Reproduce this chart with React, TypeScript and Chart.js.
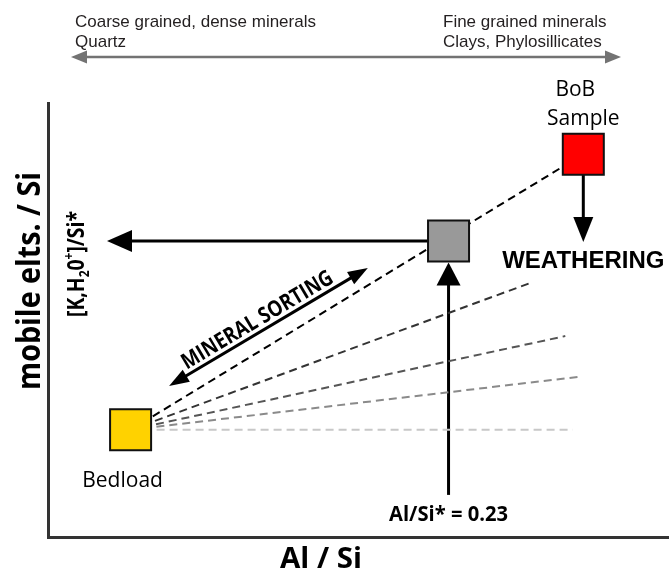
import React, { useEffect, useRef } from "react";
import { Chart, registerables } from "chart.js";

Chart.register(...registerables);

// ---- Schematic data (arbitrary 0–100 units on both axes) ----
const bedloadPoint = [{ x: 13.3, y: 24.7 }];
const sortedPoint = [{ x: 64.5, y: 68.2 }];
const bobPoint = [{ x: 86.2, y: 88.2 }];

// weathering / sorting trend lines radiating from the bedload point
const trendEndX = [86.2, 77.6, 83.3, 85.4, 84.5];
const trendEndY = [88.2, 58.5, 46.3, 36.9, 24.7];
const trendColors = ["#000000", "#333333", "#555555", "#8a8a8a", "#c8c8c8"];

// arrows
const mobileArrowTipX = 9.5; // horizontal arrow to the y axis
const alSiArrowBaseY = 9.7; // vertical arrow from Al/Si* = 0.23
const weatheringTipY = 68.0; // red sample -> weathering
const sortingStart = { x: 19.5, y: 34.8 };
const sortingEnd = { x: 51.5, y: 62.0 };

const SQUARE_RADIUS = 29; // Chart.js rect radius -> ~41px side
const HALF_SIDE = SQUARE_RADIUS * Math.SQRT1_2;

const SANS = "'Open Sans', 'Noto Sans', sans-serif";
const ARIAL = "'Liberation Sans', Arial, sans-serif";

function head(ctx: CanvasRenderingContext2D, fx: number, fy: number, tx: number, ty: number, len: number, half: number) {
  const a = Math.atan2(ty - fy, tx - fx);
  const bx = tx - len * Math.cos(a);
  const by = ty - len * Math.sin(a);
  ctx.beginPath();
  ctx.moveTo(tx, ty);
  ctx.lineTo(bx + half * Math.sin(a), by - half * Math.cos(a));
  ctx.lineTo(bx - half * Math.sin(a), by + half * Math.cos(a));
  ctx.closePath();
  ctx.fill();
}

function arrow(
  ctx: CanvasRenderingContext2D,
  x1: number, y1: number, x2: number, y2: number,
  w: number, len: number, half: number, color: string, both = false
) {
  const a = Math.atan2(y2 - y1, x2 - x1);
  const c = Math.cos(a), s = Math.sin(a);
  ctx.save();
  ctx.strokeStyle = color;
  ctx.fillStyle = color;
  ctx.lineWidth = w;
  ctx.setLineDash([]);
  ctx.beginPath();
  const sx = both ? x1 + (len - 2) * c : x1;
  const sy = both ? y1 + (len - 2) * s : y1;
  ctx.moveTo(sx, sy);
  ctx.lineTo(x2 - (len - 2) * c, y2 - (len - 2) * s);
  ctx.stroke();
  head(ctx, x1, y1, x2, y2, len, half);
  if (both) head(ctx, x2, y2, x1, y1, len, half);
  ctx.restore();
}

function text(
  ctx: CanvasRenderingContext2D, str: string, x: number, y: number, font: string,
  opts: { color?: string; align?: CanvasTextAlign; width?: number; angle?: number } = {}
) {
  ctx.save();
  ctx.font = font;
  ctx.fillStyle = opts.color || "#000";
  ctx.textAlign = opts.align || "center";
  ctx.textBaseline = "alphabetic";
  const w = ctx.measureText(str).width;
  const sx = opts.width ? opts.width / w : 1;
  ctx.translate(x, y);
  if (opts.angle) ctx.rotate(opts.angle);
  ctx.scale(sx, 1);
  ctx.fillText(str, 0, 0);
  ctx.restore();
}

type Part = { t: string; k?: number; dy?: number };
function richText(
  ctx: CanvasRenderingContext2D, parts: Part[], x: number, y: number,
  size: number, family: string, weight: string, width: number, angle: number
) {
  ctx.save();
  const widths = parts.map((p) => {
    ctx.font = `${weight} ${size * (p.k || 1)}px ${family}`;
    return ctx.measureText(p.t).width;
  });
  const total = widths.reduce((a, b) => a + b, 0);
  ctx.translate(x, y);
  ctx.rotate(angle);
  ctx.scale(width / total, 1);
  ctx.fillStyle = "#000";
  ctx.textBaseline = "alphabetic";
  ctx.textAlign = "left";
  let cx = -total / 2;
  parts.forEach((p, i) => {
    ctx.font = `${weight} ${size * (p.k || 1)}px ${family}`;
    ctx.fillText(p.t, cx, p.dy || 0);
    cx += widths[i];
  });
  ctx.restore();
}

const annotations = {
  id: "annotations",
  beforeDatasetsDraw(chart: any) {
    const ctx: CanvasRenderingContext2D = chart.ctx;
    const xs = chart.scales.x, ys = chart.scales.y;
    const gx = xs.getPixelForValue(sortedPoint[0].x);
    const gy = ys.getPixelForValue(sortedPoint[0].y);
    const rx = xs.getPixelForValue(bobPoint[0].x);
    const ry = ys.getPixelForValue(bobPoint[0].y);
    // mobile elements arrow
    arrow(ctx, gx, gy, xs.getPixelForValue(mobileArrowTipX), gy, 3, 25, 11, "#000");
    // Al/Si* arrow
    arrow(ctx, gx, ys.getPixelForValue(alSiArrowBaseY), gx, gy + HALF_SIDE + 1, 3, 23, 12, "#000");
    // weathering arrow
    arrow(ctx, rx, ry, rx, ys.getPixelForValue(weatheringTipY), 3, 25, 10, "#000");
    // mineral sorting double arrow
    arrow(
      ctx,
      xs.getPixelForValue(sortingStart.x), ys.getPixelForValue(sortingStart.y),
      xs.getPixelForValue(sortingEnd.x), ys.getPixelForValue(sortingEnd.y),
      3, 20, 7, "#000", true
    );
  },
  afterDraw(chart: any) {
    const ctx: CanvasRenderingContext2D = chart.ctx;
    const xs = chart.scales.x, ys = chart.scales.y;
    const area = chart.chartArea;
    const bx = xs.getPixelForValue(bedloadPoint[0].x);
    const by = ys.getPixelForValue(bedloadPoint[0].y);
    const gx = xs.getPixelForValue(sortedPoint[0].x);
    const rx = xs.getPixelForValue(bobPoint[0].x);
    const ry = ys.getPixelForValue(bobPoint[0].y);

    // header
    const hc = "#231f20";
    text(ctx, "Coarse grained, dense minerals", 75, 27, `17px ${ARIAL}`, { color: hc, align: "left" });
    text(ctx, "Quartz", 75, 47, `17px ${ARIAL}`, { color: hc, align: "left" });
    text(ctx, "Fine grained minerals", 443, 27, `17px ${ARIAL}`, { color: hc, align: "left" });
    text(ctx, "Clays, Phylosillicates", 443, 47, `17px ${ARIAL}`, { color: hc, align: "left" });
    arrow(ctx, 71, 57, 621, 57, 2.5, 16, 6.5, "#737373", true);

    // point labels
    text(ctx, "Bedload", bx - 8, by + 57, `21px ${SANS}`);
    text(ctx, "BoB", rx - 8, ry - 58, `21px ${SANS}`);
    text(ctx, "Sample", rx, ry - 29, `21px ${SANS}`);
    text(ctx, "WEATHERING", rx, ys.getPixelForValue(weatheringTipY) + 26, `bold 24px ${ARIAL}`);
    text(ctx, "Al/Si* = 0.23", gx, area.bottom - 16, `bold 22px ${SANS}`, { width: 119 });

    // mineral sorting label
    const sx1 = xs.getPixelForValue(sortingStart.x), sy1 = ys.getPixelForValue(sortingStart.y);
    const sx2 = xs.getPixelForValue(sortingEnd.x), sy2 = ys.getPixelForValue(sortingEnd.y);
    const ang = Math.atan2(sy2 - sy1, sx2 - sx1);
    const mx = (sx1 + sx2) / 2 - 6 * Math.cos(ang) + 5 * Math.sin(ang);
    const my = (sy1 + sy2) / 2 - 6 * Math.sin(ang) - 5 * Math.cos(ang);
    text(ctx, "MINERAL SORTING", mx, my, `bold 22px ${SANS}`, { width: 172, angle: ang });

    // axis titles
    text(ctx, "mobile elts. / Si", 40, 281, `bold 33px ${SANS}`, { width: 218, angle: -Math.PI / 2 });
    richText(
      ctx,
      [
        { t: "[K,H" },
        { t: "2", k: 0.62, dy: 5 },
        { t: "0" },
        { t: "+", k: 0.62, dy: -10 },
        { t: "]/Si*" },
      ],
      84, 264, 23, SANS, "bold", 106, -Math.PI / 2
    );
    text(ctx, "Al / Si", 321, 568, `bold 29px ${SANS}`, { width: 82 });
  },
};

export default function App() {
  const ref = useRef<HTMLCanvasElement>(null);
  useEffect(() => {
    if (!ref.current) return;
    const trendSets = trendEndX.map((ex, i) => ({
      type: "line" as const,
      data: [bedloadPoint[0], { x: ex, y: trendEndY[i] }],
      borderColor: trendColors[i],
      borderWidth: 2,
      borderDash: [8, 5],
      pointRadius: 0,
      showLine: true,
      fill: false,
    }));
    const squares = (data: any[], color: string) => ({
      type: "scatter" as const,
      data,
      pointStyle: "rect",
      pointRadius: SQUARE_RADIUS,
      pointHoverRadius: SQUARE_RADIUS,
      backgroundColor: color,
      borderColor: "#111",
      borderWidth: 2,
      clip: false as any,
    });
    const chart = new Chart(ref.current, {
      type: "scatter",
      data: {
        datasets: [
          squares(bedloadPoint, "#ffd200"),
          squares(sortedPoint, "#999999"),
          squares(bobPoint, "#ff0000"),
          ...trendSets,
        ] as any,
      },
      options: {
        responsive: false,
        animation: false,
        devicePixelRatio: 1,
        layout: { autoPadding: false, padding: { left: 48, top: 103, right: 0, bottom: 34 } },
        plugins: { legend: { display: false }, tooltip: { enabled: false } },
        events: [],
        scales: {
          x: {
            type: "linear",
            min: 0,
            max: 100,
            ticks: { display: false },
            grid: { display: false, drawTicks: false },
            border: { display: true, color: "#333", width: 3 },
          },
          y: {
            type: "linear",
            min: 0,
            max: 100,
            ticks: { display: false },
            grid: { display: false, drawTicks: false },
            border: { display: true, color: "#333", width: 3 },
          },
        },
      },
      plugins: [annotations],
    });
    return () => chart.destroy();
  }, []);
  return (
    <div style={{ position: "absolute", left: 0, top: 0, width: 669, height: 571, background: "#fff" }}>
      <canvas ref={ref} width={669} height={571} style={{ display: "block" }} />
    </div>
  );
}
